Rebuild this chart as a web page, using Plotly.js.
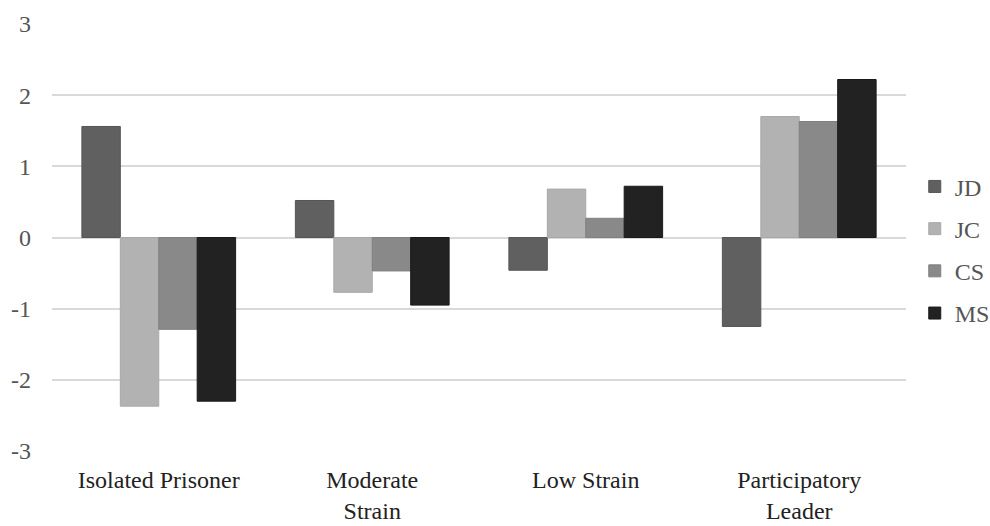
<!DOCTYPE html>
<html><head><meta charset="utf-8">
<script src="https://cdn.plot.ly/plotly-3.0.1.min.js"></script>
<style>body{margin:0;background:#fff}#c{width:990px;height:526px}</style>
</head><body><div id="c"></div>
<script>
const categories = ["Isolated Prisoner", "Moderate<br>Strain", "Low Strain", "Participatory<br>Leader"];
const seriesNames = ["JD", "JC", "CS", "MS"];
const JD = [1.56, 0.52, -0.46, -1.25];
const JC = [-2.37, -0.77, 0.68, 1.70];
const CS = [-1.29, -0.47, 0.27, 1.63];
const MS = [-2.30, -0.95, 0.72, 2.22];
const yTicks = [-3, -2, -1, 0, 1, 2, 3];

const colors = ["#606060", "#b2b2b2", "#898989", "#222222"];
const borders = ["#555555", "#a8a8a8", "#808080", "#1a1a1a"];
const values = [JD, JC, CS, MS];
const traces = seriesNames.map((n, i) => ({
  type: "bar", name: n, x: categories, y: values[i],
  legendgroup: n,
  marker: {color: colors[i], line: {color: borders[i], width: 1}}
}));
const layout = {
  width: 990, height: 526,
  margin: {l: 52, r: 84, t: 24, b: 75, autoexpand: false},
  paper_bgcolor: "#fff", plot_bgcolor: "#fff",
  barmode: "group", bargap: 0.28, bargroupgap: 0,
  font: {family: "Liberation Serif, Times New Roman, serif", color: "#595959", size: 24},
  xaxis: {tickfont: {size: 24, color: "#222"}, showgrid: false, zeroline: false, showline: false, ticks: "", ticklabelstandoff: 12, automargin: false},
  yaxis: {range: [-3, 3], tickvals: yTicks, ticktext: yTicks.map(String), tickfont: {size: 24, color: "#555"},
          showgrid: true, gridcolor: "#d9d9d9", gridwidth: 2, zeroline: true, zerolinecolor: "#d9d9d9", zerolinewidth: 2,
          showline: false, ticks: "", ticklabelstandoff: 20, automargin: false},
  legend: {xref: "container", x: 0.924, xanchor: "left", yref: "container", y: 0.525, yanchor: "middle", font: {size: 24, color: "#555"},
           traceorder: "grouped", tracegroupgap: 8, itemwidth: 30, bgcolor: "rgba(0,0,0,0)"},
  showlegend: true
};
Plotly.newPlot("c", traces, layout, {displayModeBar: false, staticPlot: true});
</script></body></html>
